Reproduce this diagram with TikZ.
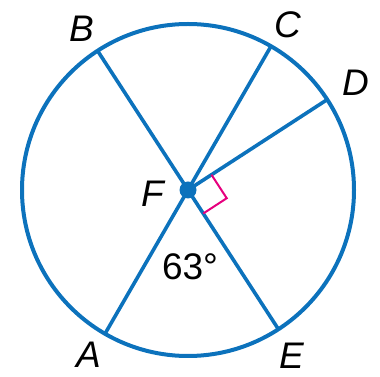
\documentclass[tikz,border=0pt]{standalone}
\usepackage{fontspec}
\setmainfont{Liberation Sans}
\usetikzlibrary{calc}

\definecolor{circblue}{RGB}{12,114,188}
\definecolor{markpink}{RGB}{230,0,126}

\begin{document}
\begin{tikzpicture}[
    x=1pt, y=1pt,
    every node/.style={font=\fontsize{37}{40}\selectfont, inner sep=0pt},
    % 圆与弦
    rim/.style={circblue, line width=4pt},
    chord/.style={circblue, line width=3.6pt},
    % 顶点标签
    pointlabel/.style={font=\fontsize{37}{40}\selectfont\itshape},
    % 直角记号
    rightmark/.style={markpink, line width=2pt},
]
\useasboundingbox (0,0) rectangle (380,377);

%% ── 圆心与圆 ───────────────────────────────────────────
\def\R{166}  % 半径

\coordinate (F) at (188,187);
\draw[rim] (F) circle (\R);

%% ── 圆上各点（极角）────────────────────────────────────
\coordinate (A) at ($(F)+(240:\R)$);
\coordinate (C) at ($(F)+(60:\R)$);
\coordinate (B) at ($(F)+(123:\R)$);
\coordinate (E) at ($(F)+(303:\R)$);
\coordinate (D) at ($(F)+(33:\R)$);

%% ── 弦与半径 ───────────────────────────────────────────
\draw[chord] (A) -- (C);
\draw[chord] (B) -- (E);
\draw[chord] (F) -- (D);

%% ── 直角记号 ───────────────────────────────────────────
\def\rs{28}  % 记号边长
\coordinate (m1) at ($(F)+(33:\rs)$);
\coordinate (m2) at ($(F)+(303:\rs)$);
\draw[rightmark] (m1) -- ($(m1)+(303:\rs)$) -- (m2);

%% ── 圆心点 ─────────────────────────────────────────────
\node[circle, fill=circblue, minimum size=17pt] (dotF) at (F) {};

%% ── 标签 ───────────────────────────────────────────────
\node[pointlabel] (lB) at (82,348) {B};
\node[pointlabel] (lC) at (288,352) {C};
\node[pointlabel] (lD) at (356,294) {D};
\node[pointlabel] (lF) at (153,183) {F};
\node[pointlabel] (lA) at (89,22) {A};
\node[pointlabel] (lE) at (292,21) {E};
\node (ang) at (190,110) {63°};

\end{tikzpicture}
\end{document}
